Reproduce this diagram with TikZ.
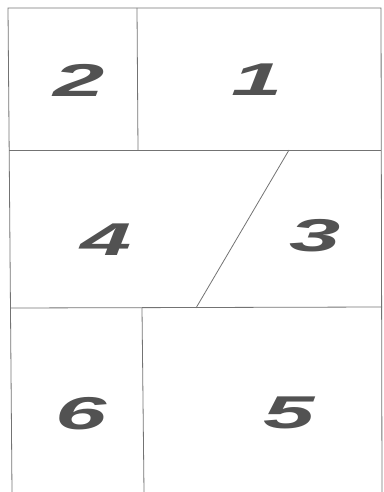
\documentclass[tikz,border=0pt]{standalone}
\usepackage{fontspec}
\setsansfont{Liberation Sans}
\begin{document}
\begin{tikzpicture}[x=1pt,y=-1pt,
  frame/.style={draw=black!55,line width=0.8pt},
  num/.style={text=black!68,font=\fontsize{46}{46}\selectfont\sffamily\bfseries\itshape,xscale=2.0,inner sep=0pt}]
\useasboundingbox (0,0) rectangle (383,492);
% outer frame
\coordinate (tl) at (8,8);
\coordinate (tr) at (381,8);
\coordinate (bl) at (12,492);
\coordinate (br) at (382,492);
\draw[frame] (bl) -- (tl) -- (tr) -- (br);
% row separators
\coordinate (r1l) at (9,150);
\coordinate (r1r) at (381,150);
\coordinate (r2l) at (11,308);
\coordinate (r2r) at (382,307);
\draw[frame] (r1l) -- (r1r);
\draw[frame] (r2l) -- (r2r);
% column dividers
\coordinate (d1t) at (137,8);
\coordinate (d1b) at (138,150);
\draw[frame] (d1t) -- (d1b);
\coordinate (st) at (289,150);
\coordinate (sb) at (196,308);
\draw[frame] (st) -- (sb);
\coordinate (d3t) at (142,308);
\coordinate (d3b) at (144,492);
\draw[frame] (d3t) -- (d3b);
% numbers
\node[num] (n2) at (79,80) {2};
\node[num] (n1) at (257,80) {1};
\node[num] (n4) at (106,240) {4};
\node[num] (n3) at (315,236) {3};
\node[num] (n6) at (81,414) {6};
\node[num] (n5) at (289,413) {5};
\end{tikzpicture}
\end{document}
